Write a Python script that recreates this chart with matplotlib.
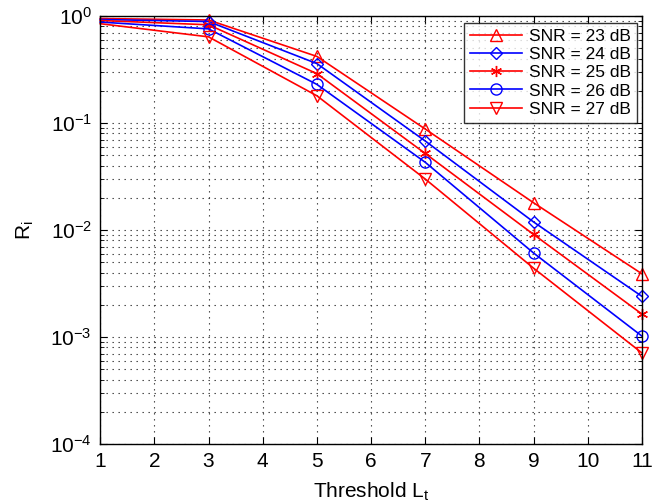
import matplotlib
matplotlib.use("Agg")
import matplotlib.pyplot as plt
from matplotlib.ticker import LogLocator, NullFormatter

plt.rcParams['font.family'] = ['Liberation Sans', 'DejaVu Sans']
plt.rcParams['mathtext.fontset'] = 'custom'
plt.rcParams['mathtext.rm'] = 'Liberation Sans'
plt.rcParams['mathtext.it'] = 'Liberation Sans'

thresholds = [1, 3, 5, 7, 9, 11]
snr_23 = [0.95, 0.92, 0.42, 0.088, 0.018, 0.0039]
snr_24 = [0.93, 0.89, 0.36, 0.068, 0.0119, 0.0024]
snr_25 = [0.91, 0.83, 0.29, 0.052, 0.0091, 0.00164]
snr_26 = [0.88, 0.76, 0.23, 0.043, 0.0061, 0.00102]
snr_27 = [0.85, 0.64, 0.18, 0.030, 0.0044, 0.00071]
labels = ['SNR = 23 dB', 'SNR = 24 dB', 'SNR = 25 dB', 'SNR = 26 dB', 'SNR = 27 dB']

series = [snr_23, snr_24, snr_25, snr_26, snr_27]
colors = ['#ff0000', '#0000ff', '#ff0000', '#0000ff', '#ff0000']
markers = ['^', 'D', (6, 2, 0), 'o', 'v']
msizes = [9, 6.5, 8, 8, 9]

fig = plt.figure(figsize=(6.68, 5.04), dpi=100)
ax = fig.add_axes([0.150, 0.119, 0.811, 0.849])

for y, c, m, ms, lab in zip(series, colors, markers, msizes, labels):
    ax.semilogy(thresholds, y, color=c, marker=m, markersize=ms, markeredgewidth=1.0,
                markerfacecolor='none', markeredgecolor=c,
                linewidth=1.2, markevery=slice(1, None), label=lab, clip_on=False)

ax.set_xlim(1, 11)
ax.set_ylim(1e-4, 1)
ax.set_xticks(range(1, 12))
ax.yaxis.set_major_locator(LogLocator(base=10, numticks=10))
ax.yaxis.set_minor_locator(LogLocator(base=10, subs=range(2, 10), numticks=20))
ax.yaxis.set_minor_formatter(NullFormatter())
dots = (0, (1.2, 4.2))
ax.grid(True, which='major', axis='both', linestyle=dots, color='#333333', linewidth=0.8)
ax.grid(True, which='minor', axis='y', linestyle=dots, color='#333333', linewidth=0.8)
ax.tick_params(which='both', direction='in', top=True, right=True, labelsize=15)
ax.tick_params(which='major', length=5, pad=6)
ax.tick_params(which='minor', length=3)
for s in ax.spines.values():
    s.set_linewidth(1.0)

ax.set_xlabel('Threshold L$_\\mathrm{t}$', fontsize=15, labelpad=7)
ax.set_ylabel('R$_\\mathrm{i}$', fontsize=15, labelpad=10)

leg = ax.legend(loc='upper right', fontsize=12.5, frameon=True, fancybox=False,
                edgecolor='black', handlelength=3.0, handletextpad=0.4,
                borderpad=0.35, labelspacing=0.17, borderaxespad=0,
                bbox_to_anchor=(0.991, 0.984))
leg.get_frame().set_linewidth(1.0)

fig.savefig('out.png', dpi=100)
